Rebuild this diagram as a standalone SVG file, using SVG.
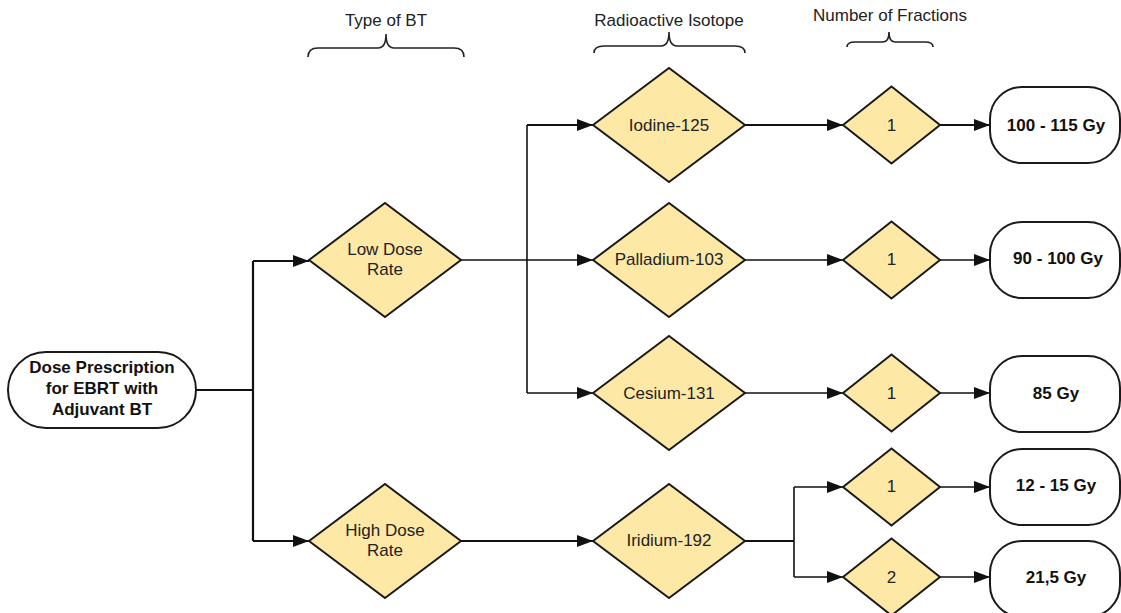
<svg xmlns="http://www.w3.org/2000/svg" width="1121" height="613" viewBox="0 0 1121 613">
<style>
.dia{fill:#FEE8A6;stroke:#1a1a1a;stroke-width:2}
.pill{fill:#fff;stroke:#1a1a1a;stroke-width:2}
.t{font-family:"Liberation Sans",Arial,sans-serif;font-size:17px;fill:#222;text-anchor:middle}
.b{font-weight:bold;fill:#111}
.c{fill:none;stroke:#111;stroke-width:1.6}
.k{stroke-width:2.2}
.br{fill:none;stroke:#222;stroke-width:1.6}
</style>
<defs>
<marker id="ah" markerUnits="userSpaceOnUse" markerWidth="17" markerHeight="13" refX="16" refY="6" orient="auto">
<path d="M0,0 L16,6 L0,12 z" fill="#111"/>
</marker>
</defs>
<rect width="1121" height="613" fill="#fff"/>

<g id="headings">
<text class="t" x="386" y="26">Type of BT</text>
<path class="br" d="M308,57 Q308,48 318,48 L378,48 Q386,48 386,34 Q386,48 394,48 L454,48 Q464,48 464,57"/>
<text class="t" x="669" y="26">Radioactive Isotope</text>
<path class="br" d="M594,53 Q594,46 604,46 L661,46 Q669,46 669,32 Q669,46 677,46 L735,46 Q745,46 745,53"/>
<text class="t" x="890" y="21">Number of Fractions</text>
<path class="br" d="M847,47 Q847,42 855,42 L883,42 Q889,42 889,32 Q889,42 895,42 L925,42 Q933,42 933,47"/>
</g>

<g id="connectors">
<path class="c k" d="M196,390 H253"/>
<path class="c k" d="M253,261 V541"/>
<path class="c k" d="M253,261 H309" marker-end="url(#ah)"/>
<path class="c k" d="M253,541 H309" marker-end="url(#ah)"/>
<path class="c" d="M461,260 H593" marker-end="url(#ah)"/>
<path class="c" d="M527,125 V393"/>
<path class="c k" d="M527,125 H593" marker-end="url(#ah)"/>
<path class="c" d="M527,393 H593" marker-end="url(#ah)"/>
<path class="c k" d="M745,125 H843" marker-end="url(#ah)"/>
<path class="c k" d="M940,125 H990" marker-end="url(#ah)"/>
<path class="c" d="M745,260 H843" marker-end="url(#ah)"/>
<path class="c" d="M940,260 H990" marker-end="url(#ah)"/>
<path class="c" d="M745,393 H843" marker-end="url(#ah)"/>
<path class="c" d="M940,393 H990" marker-end="url(#ah)"/>
<path class="c k" d="M461,541 H593" marker-end="url(#ah)"/>
<path class="c k" d="M745,541 H794"/>
<path class="c" d="M794,487 V577"/>
<path class="c" d="M794,487 H843" marker-end="url(#ah)"/>
<path class="c" d="M794,577 H843" marker-end="url(#ah)"/>
<path class="c" d="M940,487 H990" marker-end="url(#ah)"/>
<path class="c" d="M940,577 H990" marker-end="url(#ah)"/>
</g>

<g id="start">
<rect class="pill" x="8" y="352" width="188" height="76" rx="38"/>
<text class="t b" x="102" y="373">Dose Prescription</text>
<text class="t b" x="102" y="394">for EBRT with</text>
<text class="t b" x="102" y="415">Adjuvant BT</text>
</g>

<g id="low-dose">
<polygon class="dia" points="309,260 385,203 461,260 385,317"/>
<text class="t" x="385" y="255">Low Dose</text>
<text class="t" x="385" y="275">Rate</text>
</g>
<g id="high-dose">
<polygon class="dia" points="309,541 385,484 461,541 385,598"/>
<text class="t" x="385" y="536">High Dose</text>
<text class="t" x="385" y="556">Rate</text>
</g>

<g id="iodine">
<polygon class="dia" points="593,125 669,68 745,125 669,182"/>
<text class="t" x="669" y="131">Iodine-125</text>
</g>
<g id="palladium">
<polygon class="dia" points="593,260 669,203 745,260 669,317"/>
<text class="t" x="669" y="265">Palladium-103</text>
</g>
<g id="cesium">
<polygon class="dia" points="593,393 669,336 745,393 669,450"/>
<text class="t" x="669" y="399">Cesium-131</text>
</g>
<g id="iridium">
<polygon class="dia" points="593,541 669,484 745,541 669,598"/>
<text class="t" x="669" y="546">Iridium-192</text>
</g>

<g id="frac-iodine">
<polygon class="dia" points="843,125 891.5,86.5 940,125 891.5,163.5"/>
<text class="t" x="891.5" y="131">1</text>
</g>
<g id="frac-palladium">
<polygon class="dia" points="843,260 891.5,221.5 940,260 891.5,298.5"/>
<text class="t" x="891.5" y="265">1</text>
</g>
<g id="frac-cesium">
<polygon class="dia" points="843,393 891.5,354.5 940,393 891.5,431.5"/>
<text class="t" x="891.5" y="399">1</text>
</g>
<g id="frac-iridium-1">
<polygon class="dia" points="843,487 891.5,448.5 940,487 891.5,525.5"/>
<text class="t" x="891.5" y="492">1</text>
</g>
<g id="frac-iridium-2">
<polygon class="dia" points="843,577 891.5,538.5 940,577 891.5,615.5"/>
<text class="t" x="891.5" y="583">2</text>
</g>

<g id="dose-1">
<rect class="pill" x="990" y="87" width="130" height="76" rx="32"/>
<text class="t b" x="1056" y="131">100 - 115 Gy</text>
</g>
<g id="dose-2">
<rect class="pill" x="990" y="222" width="130" height="76" rx="32"/>
<text class="t b" x="1058" y="264">90 - 100 Gy</text>
</g>
<g id="dose-3">
<rect class="pill" x="990" y="356" width="130" height="76" rx="32"/>
<text class="t b" x="1056" y="399">85 Gy</text>
</g>
<g id="dose-4">
<rect class="pill" x="990" y="449" width="130" height="76" rx="32"/>
<text class="t b" x="1056" y="491">12 - 15 Gy</text>
</g>
<g id="dose-5">
<rect class="pill" x="990" y="541" width="130" height="76" rx="32"/>
<text class="t b" x="1056" y="583">21,5 Gy</text>
</g>
</svg>
